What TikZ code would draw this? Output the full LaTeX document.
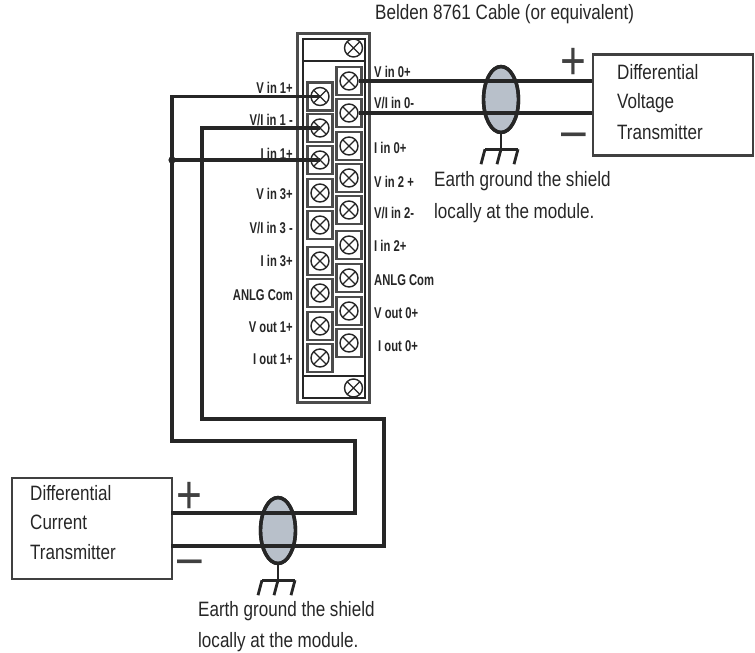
\documentclass[tikz,border=0pt]{standalone}
\usepackage{fontspec}
\setmainfont[FakeStretch=0.82]{Liberation Sans}
\newfontfamily\pinfont[FakeStretch=0.72]{Liberation Sans}
\usetikzlibrary{positioning,shapes.geometric}
\definecolor{shieldgray}{HTML}{B8C0CA}
\tikzset{
  wire/.style={line width=3.4pt, draw=black!85, line cap=butt},
  txbox/.style={rectangle, draw=black!75, line width=2.4pt, minimum width=160pt, minimum height=101pt},
  caption/.style={font=\fontsize{20.8}{20.8}\selectfont, text=black!85, inner sep=0pt, anchor=west},
  pinleft/.style={font=\pinfont\bfseries\fontsize{15.6}{15.6}\selectfont, text=black!85, inner sep=0pt, anchor=east},
  pinright/.style={font=\pinfont\bfseries\fontsize{15.6}{15.6}\selectfont, text=black!85, inner sep=0pt, anchor=west},
  terminal/.style={rectangle, draw=black!70, line width=2.2pt, minimum width=25pt, minimum height=28pt, inner sep=0pt},
  screw/.style={circle, draw=black!85, line width=1.4pt, minimum size=18pt, inner sep=0pt, fill=white,
    path picture={\draw[black!85, line width=1.4pt]
      (path picture bounding box.north west) -- (path picture bounding box.south east)
      (path picture bounding box.north east) -- (path picture bounding box.south west);}},
  shield/.style={ellipse, draw=black!85, line width=3.4pt, fill=shieldgray, minimum width=35pt, minimum height=66pt, inner sep=0pt},
  earth/.style={line width=2.8pt, draw=black!85},
  sign/.style={font=\fontsize{54}{54}\selectfont, text=black!75, inner sep=0pt}
}
\begin{document}
\begin{tikzpicture}[x=1pt,y=-1pt]
  \useasboundingbox (0,0) rectangle (755,653);
  % terminal block
  \node[rectangle, draw=black!70, line width=2.2pt, minimum width=72pt, minimum height=369pt] (Block) at (333.5,218) {};
  \node[rectangle, draw=black!85, line width=2pt, minimum width=62pt, minimum height=359pt] (BlockIn) at (333.5,218) {};
  \coordinate (TopL) at (302,61);
  \coordinate (TopR) at (365,61);
  \coordinate (BotL) at (302,376);
  \coordinate (BotR) at (365,376);
  \draw[line width=2.2pt, black!85] (TopL) -- (TopR);
  \draw[line width=2.2pt, black!85] (BotL) -- (BotR);
  \node[screw] (TopScrew) at (353.5,48) {};
  \node[screw] (BotScrew) at (353.5,388) {};

  % left row
  \node[terminal] (Lone) at (320,96.5) {};
  \node[terminal] (Ltwo) at (320,128) {};
  \node[terminal] (Lthree) at (320,160) {};
  \node[terminal] (Lfour) at (320,193) {};
  \node[terminal] (Lfive) at (320,225) {};
  \node[terminal] (Lsix) at (320,261) {};
  \node[terminal] (Lseven) at (320,293) {};
  \node[terminal] (Leight) at (320,326) {};
  \node[terminal] (Lnine) at (320,358) {};
  \node[screw] (Vone) at (320,96.5) {};
  \node[screw] (VIone) at (320,128) {};
  \node[screw] (Ione) at (320,160) {};
  \node[screw] (Vthree) at (320,193) {};
  \node[screw] (VIthree) at (320,225) {};
  \node[screw] (Ithree) at (320,261) {};
  \node[screw] (ComL) at (320,293) {};
  \node[screw] (Voutone) at (320,326) {};
  \node[screw] (Ioutone) at (320,358) {};

  % right row
  \node[terminal] (Rone) at (349,81) {};
  \node[terminal] (Rtwo) at (349,113) {};
  \node[terminal] (Rthree) at (349,146) {};
  \node[terminal] (Rfour) at (349,178) {};
  \node[terminal] (Rfive) at (349,210) {};
  \node[terminal] (Rsix) at (349,245) {};
  \node[terminal] (Rseven) at (349,278) {};
  \node[terminal] (Reight) at (349,311) {};
  \node[terminal] (Rnine) at (349,343) {};
  \node[screw] (Vzero) at (349,81) {};
  \node[screw] (VIzero) at (349,113) {};
  \node[screw] (Izero) at (349,146) {};
  \node[screw] (Vtwo) at (349,178) {};
  \node[screw] (VItwo) at (349,210) {};
  \node[screw] (Itwo) at (349,245) {};
  \node[screw] (ComR) at (349,278) {};
  \node[screw] (Voutzero) at (349,311) {};
  \node[screw] (Ioutzero) at (349,343) {};

  % pin labels
  \node[pinleft] (LabVone) at (293,88) {V in 1+};
  \node[pinleft] (LabVIone) at (293,120.5) {V/I in 1 -};
  \node[pinleft] (LabIone) at (293,154) {I in 1+};
  \node[pinleft] (LabVthree) at (293,194) {V in 3+};
  \node[pinleft] (LabVIthree) at (293,228) {V/I in 3 -};
  \node[pinleft] (LabIthree) at (293,261) {I in 3+};
  \node[pinleft] (LabComL) at (293,295) {ANLG Com};
  \node[pinleft] (LabVoutone) at (293,327) {V out 1+};
  \node[pinleft] (LabIoutone) at (293,359) {I out 1+};
  \node[pinright] (LabVzero) at (374,72) {V in 0+};
  \node[pinright] (LabVIzero) at (374,103) {V/I in 0-};
  \node[pinright] (LabIzero) at (374,148) {I in 0+};
  \node[pinright] (LabVtwo) at (374,182) {V in 2 +};
  \node[pinright] (LabVItwo) at (374,213) {V/I in 2-};
  \node[pinright] (LabItwo) at (374,246) {I in 2+};
  \node[pinright] (LabComR) at (374,280) {ANLG Com};
  \node[pinright] (LabVoutzero) at (374,313) {V out 0+};
  \node[pinright] (LabIoutzero) at (378,346) {I out 0+};

  % voltage transmitter side
  \node[txbox] (VoltTx) at (673,105) {};
  \node[shield] (ShieldV) at (501,99.5) {};
  \coordinate (VoltPlus) at (VoltTx.west |- Vzero);
  \coordinate (VoltMinus) at (VoltTx.west |- VIzero);
  \draw[wire] (Vzero.east) -- (VoltPlus);
  \draw[wire] (VIzero.east) -- (VoltMinus);
  \draw[line width=3.4pt, black!85] (ShieldV.center) ellipse (17.5pt and 33pt);
  \node[caption] (VoltOne) at (617,72) {Differential};
  \node[caption] (VoltTwo) at (617,103) {Voltage};
  \node[caption] (VoltThree) at (617,132) {Transmitter};
  \node[sign] (VoltSignP) at (573,64) {+};
  \node[sign] (VoltSignM) at (574,141) {–};
  \node[caption] (Belden) at (375,14) {Belden 8761 Cable (or equivalent)};
  \node[caption] (NoteVone) at (434,181) {Earth ground the shield};
  \node[caption, below=22pt of NoteVone.south west, anchor=west] (NoteVtwo) {locally at the module.};

  % current transmitter side
  \node[txbox] (CurrTx) at (92,528.5) {};
  \node[shield] (ShieldC) at (278,530.5) {};
  \coordinate (CurrPlus) at (171,513);
  \coordinate (CurrMinus) at (171,546);
  \coordinate (BendPlus) at (172,441);
  \coordinate (BendMinus) at (202,419);
  \coordinate (WirePlus) at (355,441);
  \coordinate (WireMinus) at (384,419);
  \draw[wire] (Vone.center) -| (BendPlus) -- (WirePlus) |- (CurrPlus);
  \draw[wire] (VIone.center) -| (BendMinus) -- (WireMinus) |- (CurrMinus);
  \draw[wire] (Ione.center) -- (Ione.center -| BendPlus);
  \fill[black!85] (Ione.center -| BendPlus) circle (3.6pt);
  \draw[line width=3.4pt, black!85] (ShieldC.center) ellipse (17.5pt and 33pt);
  \node[caption] (CurrOne) at (30,493) {Differential};
  \node[caption] (CurrTwo) at (30,522) {Current};
  \node[caption] (CurrThree) at (30,552) {Transmitter};
  \node[sign] (CurrSignP) at (189,498) {+};
  \node[sign] (CurrSignM) at (190,568) {–};
  \node[caption] (NoteCone) at (198,611) {Earth ground the shield};
  \node[caption, below=21pt of NoteCone.south west, anchor=west] (NoteCtwo) {locally at the module.};

  % earth symbols
  \draw[earth] (ShieldV.south) -- ++(0,15) coordinate (GndV);
  \draw[earth] ([xshift=-16pt]GndV) -- ([xshift=17pt]GndV);
  \draw[earth] ([xshift=-16pt]GndV) -- ++(-4,15);
  \draw[earth] (GndV) -- ++(-4,15);
  \draw[earth] ([xshift=17pt]GndV) -- ++(-4,15);
  \draw[earth] (ShieldC.south) -- ++(0,15) coordinate (GndC);
  \draw[earth] ([xshift=-16pt]GndC) -- ([xshift=17pt]GndC);
  \draw[earth] ([xshift=-16pt]GndC) -- ++(-4,15);
  \draw[earth] (GndC) -- ++(-4,15);
  \draw[earth] ([xshift=17pt]GndC) -- ++(-4,15);
\end{tikzpicture}
\end{document}
